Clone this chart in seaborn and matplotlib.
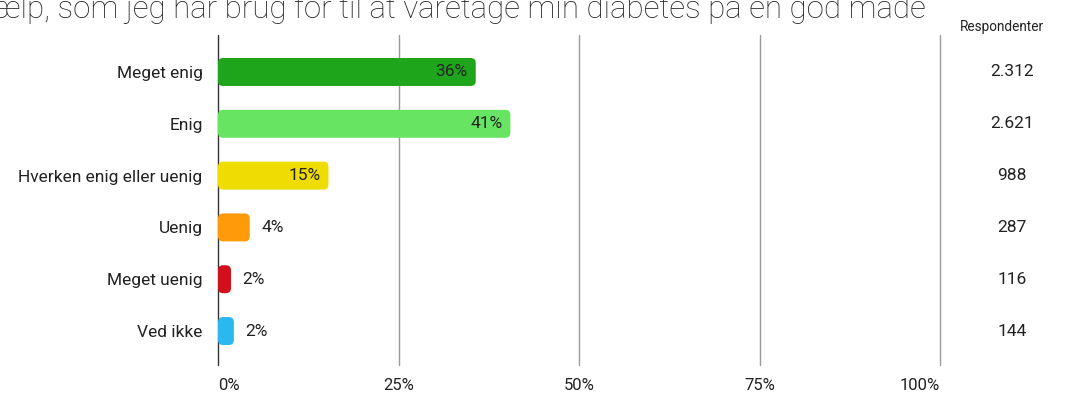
import pandas as pd
import seaborn as sns
import matplotlib.pyplot as plt
import matplotlib.transforms as mtransforms
from matplotlib.patches import FancyBboxPatch

# Data
categories = ['Meget enig', 'Enig', 'Hverken enig eller uenig', 'Uenig', 'Meget uenig', 'Ved ikke']
percent = [35.7, 40.5, 15.3, 4.4, 1.8, 2.2]
pct_labels = ['36%', '41%', '15%', '4%', '2%', '2%']
respondents = ['2.312', '2.621', '988', '287', '116', '144']
bar_colors = ['#1fa51c', '#66e462', '#efdc00', '#ff9a0a', '#d2101c', '#2bb8f0']
tick_values = [0, 25, 50, 75, 100]
tick_labels = ['0%', '25%', '50%', '75%', '100%']
title = 'hjælp, som jeg har brug for til at varetage min diabetes på en god måde'

df = pd.DataFrame({'svar': categories, 'pct': percent})

sns.set_style('white')
plt.rcParams['font.family'] = ['Roboto', 'DejaVu Sans']

fig = plt.figure(figsize=(10.74, 3.95), dpi=100)
ax = fig.add_axes([218 / 1074, 30 / 395, 722 / 1074, 330 / 395])

sns.barplot(data=df, x='pct', y='svar', hue='svar', palette=bar_colors,
            saturation=1, legend=False, width=0.54, ax=ax, zorder=3)

# Swap the plain rectangles for rounded ones
for patch in list(ax.patches):
    x, y = patch.get_x(), patch.get_y()
    w, h = patch.get_width(), patch.get_height()
    color = patch.get_facecolor()
    patch.remove()
    r = min(0.7, w / 2)
    ax.add_patch(FancyBboxPatch((x, y), w, h,
                                boxstyle=f'round,pad=0,rounding_size={r}',
                                mutation_aspect=0.14, facecolor=color,
                                edgecolor='none', zorder=3))

ax.set_xlim(0, 100)
ax.set_ylim(5.656, -0.714)

# Grid lines
for t in tick_values:
    ax.axvline(t, color='#333333' if t == 0 else '#9a9a9a', lw=1, zorder=1, clip_on=False)

# Percentage labels
for i, (v, lab) in enumerate(zip(percent, pct_labels)):
    if v > 10:
        ax.text(v - 1.1, i, lab, ha='right', va='center', fontsize=12.5, color='#222222', zorder=4)
    else:
        ax.text(v + 1.6, i, lab, ha='left', va='center', fontsize=12.5, color='#222222', zorder=4)

# x tick labels near the bottom edge
ax.set_xticks([])
tick_y = (395 - 385 - 30) / 330
for t, lab in zip(tick_values, tick_labels):
    ha = 'left' if t == 0 else ('right' if t == 100 else 'center')
    ax.text(t, tick_y, lab, transform=ax.get_xaxis_transform(), ha=ha, va='center',
            fontsize=12, color='#222222', clip_on=False)

ax.tick_params(axis='y', length=0, pad=11, labelsize=12.5, labelcolor='#222222')
ax.set_xlabel('')
ax.set_ylabel('')
sns.despine(ax=ax, left=True, bottom=True)

# Respondent counts on the right
fig.text(1002 / 1074, 1 - 27 / 395, 'Respondenter', ha='center', va='center',
         fontsize=9.8, color='#222222')
count_tf = mtransforms.blended_transform_factory(fig.transFigure, ax.transData)
for i, n in enumerate(respondents):
    ax.text(1012 / 1074, i, n, transform=count_tf, ha='center', va='center',
            fontsize=12.5, color='#222222', clip_on=False)

# Title, cut off at the top and left like the reference
fig.text(-30 / 1074, 1 - 17.5 / 395, title, ha='left', va='baseline', fontsize=22.5,
         fontweight='light', color='#222222')

fig.savefig('out.png', dpi=100)
